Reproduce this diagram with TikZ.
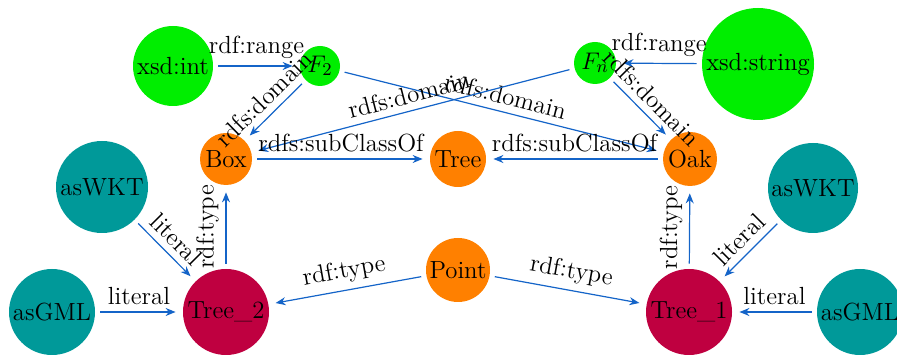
\documentclass[tikz,border=0pt]{standalone}
\usetikzlibrary{arrows.meta}
\definecolor{edgeblue}{RGB}{20,100,200}
\definecolor{tealc}{RGB}{0,153,153}
\definecolor{crim}{RGB}{191,0,64}
\definecolor{grn}{RGB}{0,238,0}
\definecolor{org}{RGB}{255,128,0}
\begin{document}
\begin{tikzpicture}[x=0.5pt,y=-0.5pt,font=\fontsize{12.4}{15}\selectfont,
  vert/.style={circle,inner sep=0pt,text=black},
  gr/.style={vert,fill=grn},
  og/.style={vert,fill=org},
  tl/.style={vert,fill=tealc},
  cr/.style={vert,fill=crim},
  rel/.style={draw=edgeblue,line width=0.6pt,-{Stealth[length=5pt,width=4pt]},shorten <=2.5pt,shorten >=3.5pt},
  lbl/.style={above,sloped,text=black}]
\clip (0,0) rectangle (897,356);
\node[gr,minimum size=40pt] (xint) at (173,66) {xsd:int};
\node[gr,minimum size=20pt] (f2) at (320,66) {$F_2$};
\node[gr,minimum size=21pt] (fn) at (595,63) {$F_n$};
\node[gr,minimum size=56pt] (xstr) at (758,64) {xsd:string};
\node[og,minimum size=26pt] (box) at (226,159) {Box};
\node[og,minimum size=28pt] (tree) at (458,159) {Tree};
\node[og,minimum size=27pt] (oak) at (690,159) {Oak};
\node[og,minimum size=32pt] (point) at (458,270) {Point};
\node[tl,minimum size=46pt] (wkt1) at (102,187) {asWKT};
\node[tl,minimum size=43pt] (gml1) at (52,312) {asGML};
\node[tl,minimum size=45pt] (wkt2) at (813,188) {asWKT};
\node[tl,minimum size=43pt] (gml2) at (860,312) {asGML};
\node[cr,minimum size=43pt] (t2) at (226,312) {Tree\_2};
\node[cr,minimum size=43pt] (t1) at (689,312) {Tree\_1};
\draw[rel] (xint) -- node[lbl]{rdf:range} (f2);
\draw[rel] (xstr) -- node[lbl]{rdf:range} (fn);
\draw[rel] (f2) -- node[lbl]{rdfs:domain} (box);
\draw[rel] (f2) -- node[lbl]{rdfs:domain} (oak);
\draw[rel] (fn) -- node[lbl]{rdfs:domain} (box);
\draw[rel] (fn) -- node[lbl]{rdfs:domain} (oak);
\draw[rel] (box) -- node[lbl]{rdfs:subClassOf} (tree);
\draw[rel] (oak) -- node[lbl]{rdfs:subClassOf} (tree);
\draw[rel] (t2) -- node[lbl]{rdf:type} (box);
\draw[rel] (t1) -- node[lbl]{rdf:type} (oak);
\draw[rel] (point) -- node[lbl]{rdf:type} (t2);
\draw[rel] (point) -- node[lbl]{rdf:type} (t1);
\draw[rel] (wkt1) -- node[lbl]{literal} (t2);
\draw[rel] (gml1) -- node[lbl]{literal} (t2);
\draw[rel] (wkt2) -- node[lbl]{literal} (t1);
\draw[rel] (gml2) -- node[lbl]{literal} (t1);
\end{tikzpicture}
\end{document}
